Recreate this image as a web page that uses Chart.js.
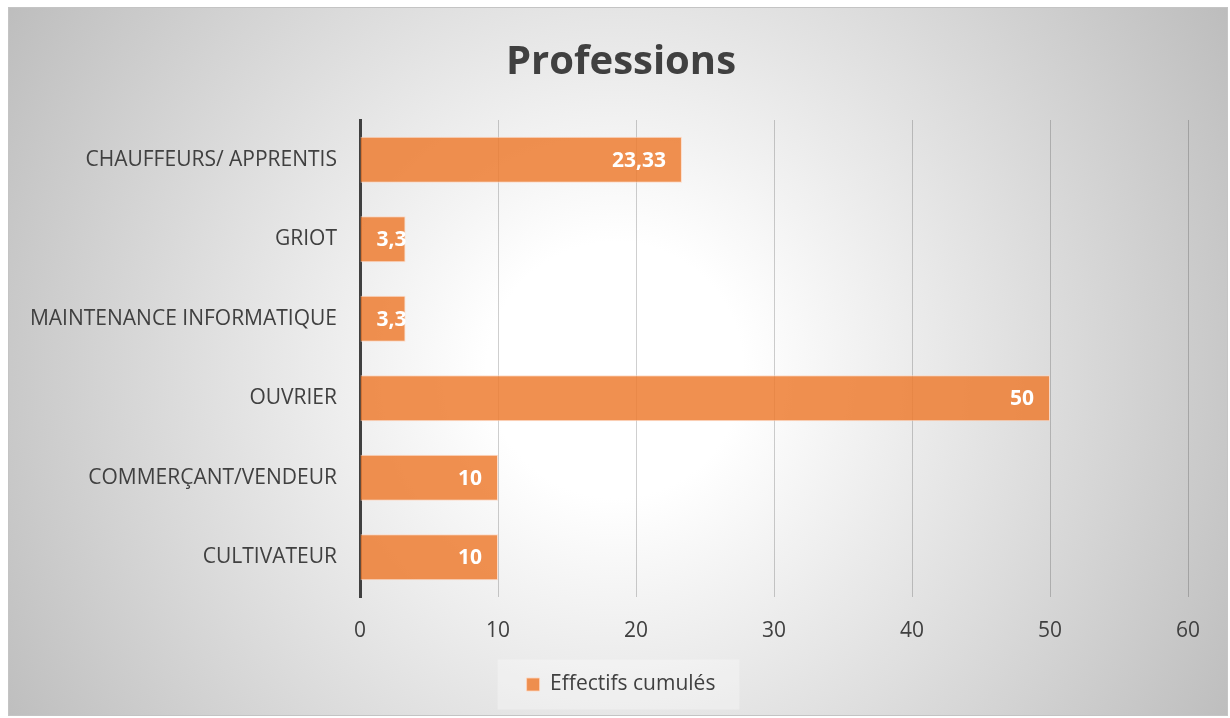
<!DOCTYPE html>
<html>
<head>
<meta charset="utf-8">
<script src="https://cdn.jsdelivr.net/npm/chart.js@4.4.0/dist/chart.umd.min.js"></script>
<style>
  html, body { margin: 0; padding: 0; background: #fff; }
  #wrap { width: 1230px; height: 718px; position: relative; }
</style>
</head>
<body>
<div id="wrap"><canvas id="prof-chart"></canvas></div>
<script>
'use strict';

// Data
const categories = [
  'CHAUFFEURS/ APPRENTIS',
  'GRIOT',
  'MAINTENANCE INFORMATIQUE',
  'OUVRIER',
  'COMMERÇANT/VENDEUR',
  'CULTIVATEUR'
];
const effectifs = [23.33, 3.3, 3.3, 50, 10, 10];
const xTicks = [0, 10, 20, 30, 40, 50, 60];

const TEXT = '#404040';
const FONT = "'Open Sans', 'Noto Sans', sans-serif";

// frame + radial background + legend backdrop
const backdrop = {
  id: 'backdrop',
  beforeDraw(chart) {
    const { ctx } = chart;
    const x0 = 8, y0 = 7, x1 = 1228, y1 = 716;
    ctx.save();
    const g = ctx.createRadialGradient(615, 370, 0, 615, 370, 710);
    g.addColorStop(0, '#ffffff');
    g.addColorStop(0.18, '#ffffff');
    g.addColorStop(1, '#bdbdbd');
    ctx.fillStyle = g;
    ctx.fillRect(x0, y0, x1 - x0, y1 - y0);
    ctx.strokeStyle = '#c4c4c4';
    ctx.lineWidth = 1;
    ctx.strokeRect(x0 + 0.5, y0 + 0.5, x1 - x0 - 1, y1 - y0 - 1);

    const hb = chart.legend && chart.legend.legendHitBoxes && chart.legend.legendHitBoxes[0];
    if (hb) {
      const cy = hb.top + hb.height / 2;
      ctx.fillStyle = 'rgba(255,255,255,0.3)';
      ctx.fillRect(hb.left - 29, cy - 25, hb.width + 53, 50);
    }
    ctx.restore();
  }
};

// white value labels at the inside end of each bar
const barValues = {
  id: 'barValues',
  afterDatasetsDraw(chart) {
    const { ctx } = chart;
    const meta = chart.getDatasetMeta(0);
    ctx.save();
    ctx.font = `bold 21px ${FONT}`;
    ctx.fillStyle = '#ffffff';
    ctx.textBaseline = 'middle';
    ctx.textAlign = 'right';
    meta.data.forEach((bar, i) => {
      const txt = String(effectifs[i]).replace('.', ',');
      const w = ctx.measureText(txt).width;
      const right = Math.max(bar.x - 16, bar.base + 16 + w);
      ctx.fillText(txt, right, bar.y + 1);
    });
    ctx.restore();
  }
};

new Chart(document.getElementById('prof-chart'), {
  type: 'bar',
  data: {
    labels: categories,
    datasets: [{
      label: 'Effectifs cumulés',
      data: effectifs,
      backgroundColor: 'rgba(237,125,49,0.85)',
      borderColor: 'rgba(255,214,190,0.8)',
      borderWidth: 1,
      categoryPercentage: 0.58,
      barPercentage: 1
    }]
  },
  options: {
    indexAxis: 'y',
    responsive: true,
    maintainAspectRatio: false,
    animation: false,
    devicePixelRatio: 1,
    layout: { padding: { left: 20, right: 8, top: 15, bottom: 13 } },
    plugins: {
      title: {
        display: true,
        text: 'Professions',
        color: TEXT,
        font: { family: FONT, size: 40, weight: 'bold' },
        padding: { top: 24, bottom: 33 }
      },
      legend: {
        position: 'bottom',
        labels: {
          color: TEXT,
          font: { family: FONT, size: 21 },
          boxWidth: 13,
          boxHeight: 13,
          padding: 10
        }
      },
      tooltip: { enabled: false }
    },
    scales: {
      x: {
        min: 0, max: 60,
        afterBuildTicks: s => { s.ticks = xTicks.map(v => ({ value: v })); },
        afterFit: s => { s.height = 67; },
        grid: { color: 'rgba(0,0,0,0.19)', lineWidth: 1, drawTicks: false },
        border: { display: false },
        ticks: { color: TEXT, font: { family: FONT, size: 21 }, padding: 21 }
      },
      y: {
        afterFit: s => { s.width = 340; },
        grid: { display: false },
        border: { display: true, color: '#404040', width: 3 },
        ticks: { color: TEXT, font: { family: FONT, size: 21 }, padding: 15 }
      },
      // empty spacer on the right so the plot ends at 60 while title/legend stay centred
      pad: {
        type: 'linear',
        position: 'right',
        afterFit: s => { s.width = 34; },
        grid: { display: false },
        border: { display: false },
        ticks: { display: false }
      }
    }
  },
  plugins: [backdrop, barValues]
});
</script>
</body>
</html>
